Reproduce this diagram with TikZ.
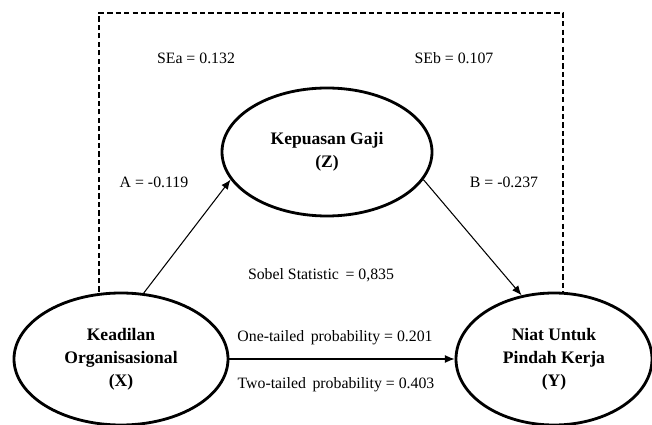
\documentclass[tikz,border=0pt]{standalone}
\usepackage{fontspec}
\setmainfont{Liberation Serif}
\usetikzlibrary{arrows.meta,shapes.geometric,positioning}
\tikzset{
    %Define standard arrow tip
    >={Latex[length=5.5pt,width=4.5pt]},
    %Define style for the variables
    var/.style={
      ellipse,
      draw=black, line width=1.6pt,
      fill=white,
      align=center,
      font=\fontsize{10}{13}\selectfont\bfseries},
    % Define arrow style
    arr/.style={
      ->,
      line width=0.6pt},
    % Define style for the numbers
    stat/.style={
      font=\fontsize{9}{11}\selectfont},
    % Define style for the dashed frame
    frame/.style={
      line width=0.6pt,
      dash pattern=on 3pt off 1.8pt}
}

\begin{document}
\begin{tikzpicture}
    \useasboundingbox (0,0) rectangle (13.04,8.48);
    \draw[frame] (1.98,1.3) |- (11.26,8.22) -- (11.26,1.3);

    \node[var, minimum width=4.28cm, minimum height=2.64cm] (keadilan) at (2.42,1.3)
      {Keadilan\\Organisasional\\(X)};
    \node[var, minimum width=4.2cm, minimum height=2.56cm] (kepuasan) at (6.54,5.44)
      {Kepuasan Gaji\\(Z)};
    \node[var, minimum width=3.92cm, minimum height=2.64cm] (niat) at (11.08,1.3)
      {Niat Untuk\\Pindah Kerja\\(Y)};

    \draw[arr] (keadilan.71) -- (kepuasan.196);
    \draw[arr] (kepuasan.344) -- (niat.117);
    \draw[arr] (keadilan) -- (niat);

    \node[stat] (sea) at (3.92,7.32) {SEa = 0.132};
    \node[stat] (seb) at (9.08,7.32) {SEb = 0.107};
    \node[stat] (a) at (3.08,4.84) {A = -0.119};
    \node[stat] (b) at (10.08,4.84) {B = -0.237};
    \node[stat] (sobel) at (6.42,2.98) {Sobel Statistic \,= 0,835};
    \node[stat] (onetail) at (6.70,1.72) {One-tailed \,probability = 0.201};
    \node[stat] (twotail) at (6.72,0.78) {Two-tailed \,probability = 0.403};
\end{tikzpicture}
\end{document}
